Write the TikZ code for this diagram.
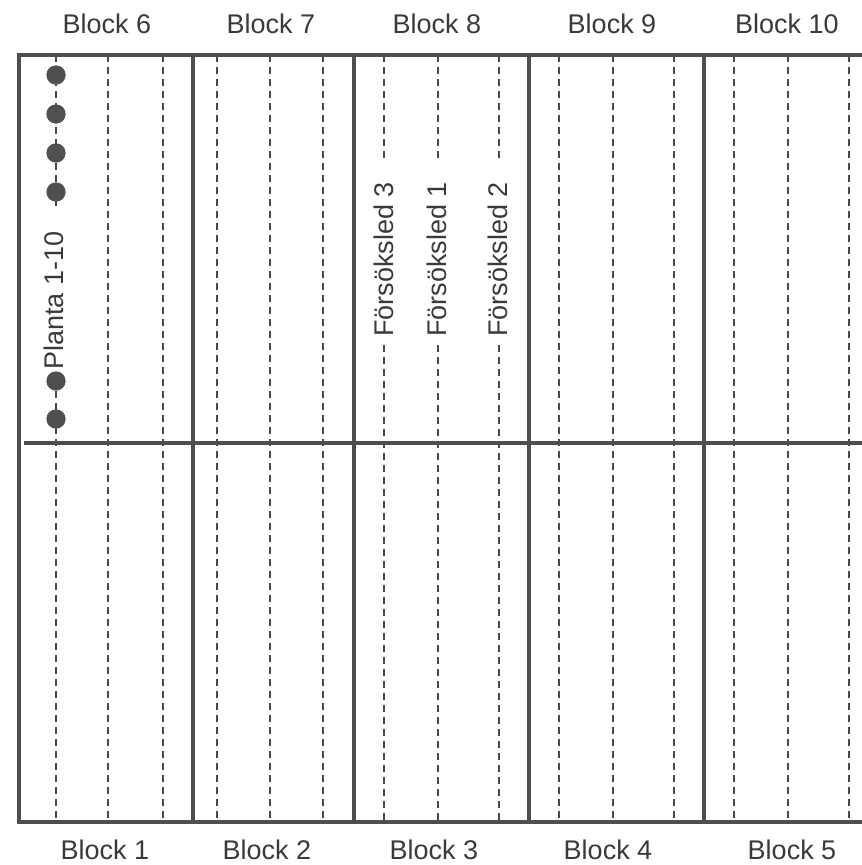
\documentclass[tikz,border=0pt]{standalone}
\usepackage{fontspec}
\setmainfont{Liberation Sans}
\definecolor{linegray}{HTML}{4E4E4E}
\definecolor{dashgray}{HTML}{484848}
\definecolor{textgray}{HTML}{3A3A3A}
\definecolor{dotgray}{HTML}{505050}
\begin{document}
\begin{tikzpicture}[x=1pt,y=-1pt,
  wall/.style={line width=3.2pt, draw=linegray},
  rowline/.style={line width=1.6pt, draw=dashgray, dash pattern=on 7pt off 5pt},
  lbl/.style={font=\fontsize{27}{31}\selectfont, text=textgray, inner sep=0pt},
  plant/.style={circle, fill=dotgray, minimum size=19pt, inner sep=0pt}]
\useasboundingbox (0,0) rectangle (862,865);
\fill[white] (0,0) rectangle (862,865);

% plain dashed rows
\foreach \x in {108,163,217,270,323,559,613,674,734,788,849}
  \draw[rowline] (\x,55) -- (\x,822);

% Block 8 labelled rows
\node[lbl, rotate=90, anchor=west] (f3) at (384,337) {Försöksled 3};
\node[lbl, rotate=90, anchor=west] (f1) at (437,337) {Försöksled 1};
\node[lbl, rotate=90, anchor=west] (f2) at (498,337) {Försöksled 2};
\coordinate (f3t) at (384,55);  \coordinate (f3a) at (384,160);
\coordinate (f3b) at (384,345); \coordinate (f3e) at (384,822);
\coordinate (f1t) at (438,55);  \coordinate (f1a) at (438,160);
\coordinate (f1b) at (438,345); \coordinate (f1e) at (438,822);
\coordinate (f2t) at (499,55);  \coordinate (f2a) at (499,160);
\coordinate (f2b) at (499,345); \coordinate (f2e) at (499,822);
\draw[rowline] (f3t) -- (f3a); \draw[rowline] (f3b) -- (f3e);
\draw[rowline] (f1t) -- (f1a); \draw[rowline] (f1b) -- (f1e);
\draw[rowline] (f2t) -- (f2a); \draw[rowline] (f2b) -- (f2e);

% plant row
\coordinate (pt) at (56,55);
\coordinate (pm) at (56,207);
\coordinate (pe) at (56,822);
\node[plant] (p1) at (56,75) {};
\node[plant] (p2) at (56,114) {};
\node[plant] (p3) at (56,153) {};
\node[plant] (p4) at (56,192) {};
\node[plant] (p5) at (56,381) {};
\node[plant] (p6) at (56,419) {};
\draw[rowline] (pt) -- (pm);
\draw[rowline] (p5) -- (pe);
\node[plant] at (p1) {};
\node[plant] at (p2) {};
\node[plant] at (p3) {};
\node[plant] at (p4) {};
\node[plant] at (p5) {};
\node[plant] at (p6) {};
\node[lbl, rotate=90, anchor=west] (planta) at (54,370) {Planta 1-10};

% walls
\draw[wall] (875,55) -- (19,55) -- (19,822) -- (875,822);
\draw[wall] (24,443) -- (875,443);
\foreach \x in {193,354,529,704}
  \draw[wall] (\x,55) -- (\x,822);

% block labels
\node[lbl] (b6) at (107,24) {Block 6};
\node[lbl] (b7) at (271,24) {Block 7};
\node[lbl] (b8) at (437,24) {Block 8};
\node[lbl] (b9) at (612,24) {Block 9};
\node[lbl] (b10) at (787,24) {Block 10};
\node[lbl] (b1) at (105,850) {Block 1};
\node[lbl] (b2) at (267,850) {Block 2};
\node[lbl] (b3) at (434,850) {Block 3};
\node[lbl] (b4) at (608,850) {Block 4};
\node[lbl] (b5) at (792,850) {Block 5};
\end{tikzpicture}
\end{document}
